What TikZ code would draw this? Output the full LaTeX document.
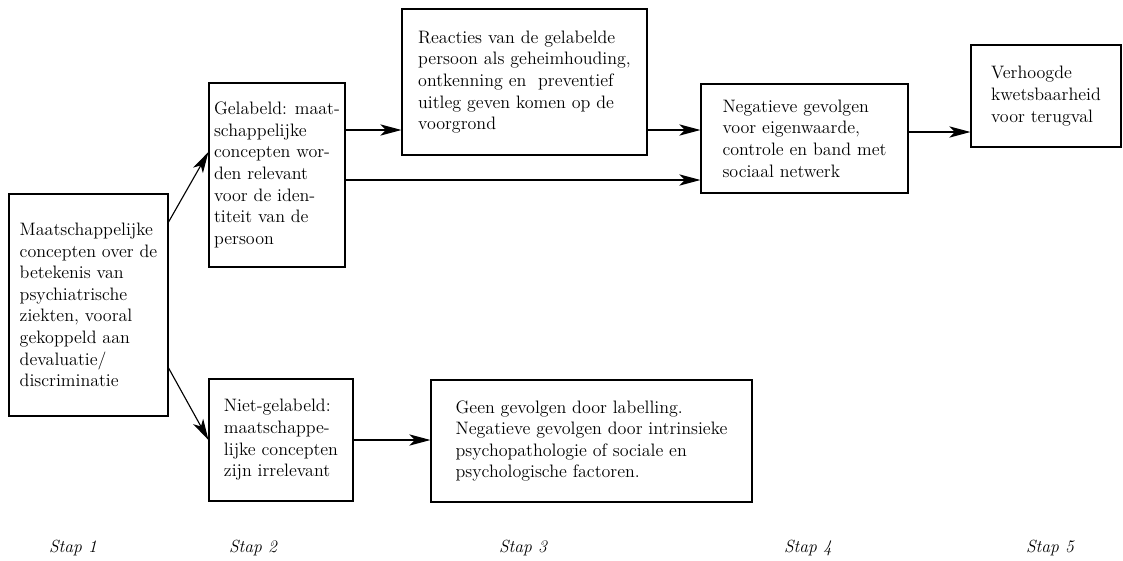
\documentclass[tikz,border=0pt]{standalone}
\usepackage{tikz}
\usetikzlibrary{arrows.meta, positioning, calc}

\begin{document}
\begin{tikzpicture}[font=\fontsize{12.8}{15.4}\selectfont,
    stagebox/.style={rectangle, draw=black, line width=0.8pt, align=left,
      inner sep=0pt},
    staplabel/.style={font=\fontsize{12.5}{14}\selectfont\itshape}]

  \useasboundingbox (0,0) rectangle (28.075,-14.025);

  % stap 1
  \node (concepts) [stagebox, minimum width=3.975cm, minimum height=5.55cm] at (2.2125,-7.625)
    {Maatschappelijke\\concepten over de\\betekenis van\\psychiatrische\\ziekten, vooral\\gekoppeld aan\\devaluatie/\\discriminatie};

  % stap 2
  \node (labeled) [stagebox, minimum width=3.4cm, minimum height=4.6cm] at (6.925,-4.375)
    {Gelabeld: maat-\\schappelijke\\concepten wor-\\den relevant\\voor de iden-\\titeit van de\\persoon};
  \node (unlabeled) [stagebox, minimum width=3.6cm, minimum height=3.05cm] at (7.025,-11.0)
    {Niet-gelabeld:\\maatschappe-\\lijke concepten\\zijn irrelevant};

  % stap 3
  \node (reactions) [stagebox, minimum width=6.125cm, minimum height=3.65cm] at (13.1125,-2.05)
    {Reacties van de gelabelde\\persoon als geheimhouding,\\ontkenning en\ \ preventief\\uitleg geven komen op de\\voorgrond};
  \node (noeffect) [stagebox, minimum width=8.025cm, minimum height=3.05cm] at (14.7875,-11.025)
    {Geen gevolgen door labelling.\\Negatieve gevolgen door intrinsieke\\psychopathologie of sociale en\\psychologische factoren.};

  % stap 4 and 5
  \node (negative) [stagebox, minimum width=5.175cm, minimum height=2.725cm] at (20.1125,-3.4625)
    {Negatieve gevolgen\\voor eigenwaarde,\\controle en band met\\sociaal netwerk};
  \node (relapse) [stagebox, minimum width=3.75cm, minimum height=2.55cm] at (26.15,-2.4)
    {Verhoogde\\kwetsbaarheid\\voor terugval};

  \coordinate (ab) at ([yshift=2.075cm]concepts.east);
  \coordinate (af) at ([yshift=-1.575cm]concepts.east);
  \coordinate (bc) at ([yshift=1.125cm]labeled.east);
  \coordinate (bd) at ([yshift=-0.125cm]labeled.east);
  \coordinate (cd) at ([yshift=-1.2cm]reactions.east);
  \coordinate (de) at ([yshift=0.1625cm]negative.east);

  \draw [-{Stealth[length=15pt, width=8pt, inset=4pt]}, line width=0.8pt] (ab) -- ([yshift=0.575cm]labeled.west);
  \draw [-{Stealth[length=15pt, width=8pt, inset=4pt]}, line width=0.8pt] (af) -- (unlabeled.west);
  \draw [-{Stealth[length=15pt, width=8pt, inset=4pt]}, line width=0.8pt] (bc) -- (bc -| reactions.west);
  \draw [-{Stealth[length=15pt, width=8pt, inset=4pt]}, line width=0.8pt] (bd) -- (bd -| negative.west);
  \draw [-{Stealth[length=15pt, width=8pt, inset=4pt]}, line width=0.8pt] (cd) -- (cd -| negative.west);
  \draw [-{Stealth[length=15pt, width=8pt, inset=4pt]}, line width=0.8pt] (de) -- (de -| relapse.west);
  \draw [-{Stealth[length=15pt, width=8pt, inset=4pt]}, line width=0.8pt] (unlabeled.east) -- (unlabeled.east -| noeffect.west);

  % step labels
  \node (stap1) [staplabel] at (1.825,-13.7) {Stap 1};
  \node (stap2) [staplabel] at (6.325,-13.7) {Stap 2};
  \node (stap3) [staplabel] at (13.075,-13.7) {Stap 3};
  \node (stap4) [staplabel] at (20.2,-13.7) {Stap 4};
  \node (stap5) [staplabel] at (26.25,-13.7) {Stap 5};
\end{tikzpicture}
\end{document}
